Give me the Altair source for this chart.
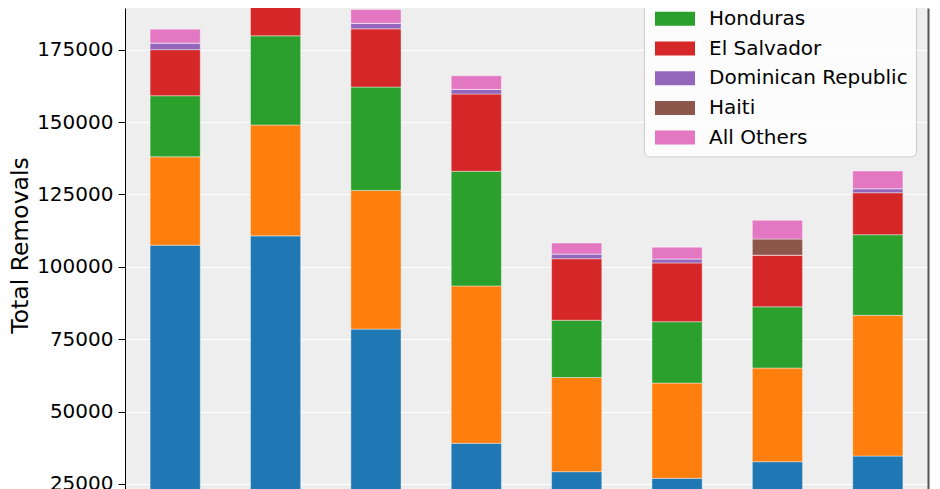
import altair as alt
import pandas as pd

# ---- data ----
years = ["2011", "2012", "2013", "2014", "2015", "2016", "2017", "2018"]
countries = ["Mexico", "Guatemala", "Honduras", "El Salvador",
             "Dominican Republic", "Haiti", "All Others"]
colors = ["#1f77b4", "#ff7f0e", "#2ca02c", "#d62728",
          "#9467bd", "#8c564b", "#e377c2"]

mexico      = [107500, 110700, 78500, 39050, 29250, 26950, 32700, 34650]
guatemala   = [30500, 38300, 47900, 54350, 32550, 32900, 32350, 48600]
honduras    = [21100, 30800, 35700, 39600, 19750, 21200, 21150, 27850]
el_salvador = [15900, 19700, 20100, 26700, 21250, 20300, 17850, 14500]
dominican   = [2300, 2500, 1900, 1600, 1650, 1400, 0, 1400]
haiti       = [0, 0, 0, 0, 0, 0, 5550, 0]
others      = [4800, 4900, 4800, 4700, 3800, 4050, 6450, 6100]

tick_values = [25000, 50000, 75000, 100000, 125000, 150000, 175000]
y_domain = [23270, 189400]

series = [mexico, guatemala, honduras, el_salvador, dominican, haiti, others]
rows = []
for ci, (name, vals) in enumerate(zip(countries, series)):
    for yr, v in zip(years, vals):
        rows.append({"Year": yr, "Country": name, "Removals": v, "idx": ci})
df = pd.DataFrame(rows)

base = alt.Chart(df)

bars = base.mark_bar(clip=True, stroke="white", strokeWidth=0.8, strokeOpacity=0.5).encode(
    x=alt.X("Year:N", sort=years,
            scale=alt.Scale(paddingInner=0.5, paddingOuter=0.25),
            axis=alt.Axis(labels=False, ticks=False, domain=False, title=None,
                          grid=True, gridColor="white", gridWidth=1.2)),
    y=alt.Y("Removals:Q", stack="zero",
            scale=alt.Scale(domain=y_domain, zero=False, nice=False),
            axis=alt.Axis(title="Total Removals", values=tick_values, format="d",
                          labelFontSize=20, labelColor="black", labelPadding=5,
                          labelOverlap=False, labelFlush=False,
                          tickColor="black", tickSize=7, tickWidth=1,
                          domainColor="black", domainWidth=1,
                          grid=True, gridColor="white", gridWidth=1.2,
                          titleFontSize=23.5, titleFontWeight="normal",
                          titleColor="black", titlePadding=4, titleY=237)),
    color=alt.Color("Country:N",
                    scale=alt.Scale(domain=countries, range=colors),
                    legend=alt.Legend(
                        title=None, orient="none", legendX=519, legendY=-66.6,
                        labelFontSize=20, labelColor="black", labelLimit=400,
                        symbolType="M-2.857,-1L2.857,-1L2.857,1L-2.857,1Z",
                        symbolSize=196, symbolStrokeWidth=0, symbolOpacity=1,
                        symbolOffset=13, labelOffset=24,
                        rowPadding=9.7, padding=8,
                        fillColor="rgba(255,255,255,0.8)",
                        strokeColor="#cccccc", cornerRadius=5)),
    order=alt.Order("idx:Q"),
)

spine = base.mark_bar(opacity=0).encode(
    x=alt.X("Year:N", sort=years, axis=None),
    y=alt.Y("Removals:Q",
            axis=alt.Axis(orient="right", labels=False, ticks=False, grid=False,
                          domainColor="#555555", domainWidth=2, title=None)),
)

chart = alt.layer(bars, spine).resolve_axis(y="independent").properties(
    width=803, height=481,
    padding={"left": 117, "top": 0, "right": 4, "bottom": 0},
    autosize=alt.AutoSizeParams(type="none"),
).configure(font="DejaVu Sans").configure_view(fill="#eeeeee", stroke=None)

chart.save("out.html", embed_options={"renderer": "svg", "actions": False})
